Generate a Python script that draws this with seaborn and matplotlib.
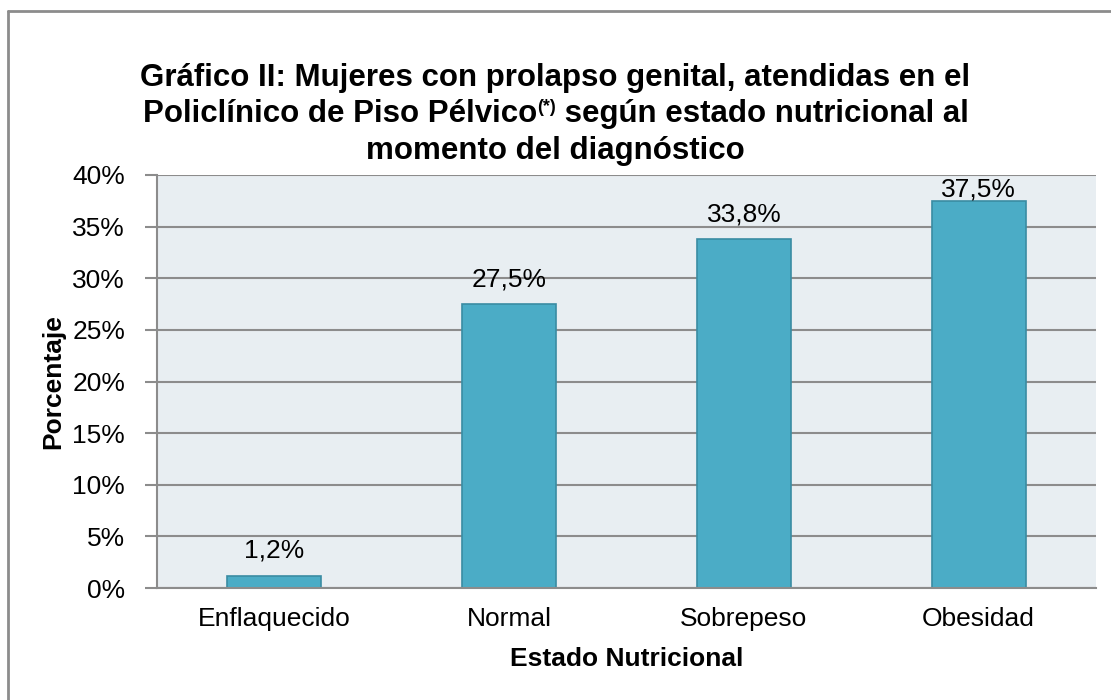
import matplotlib
matplotlib.use("Agg")
import matplotlib.pyplot as plt
import seaborn as sns
import pandas as pd
from matplotlib.lines import Line2D

categories = ["Enflaquecido", "Normal", "Sobrepeso", "Obesidad"]
values = [1.2, 27.5, 33.8, 37.5]
value_labels = ["1,2%", "27,5%", "33,8%", "37,5%"]
yticks = [0, 5, 10, 15, 20, 25, 30, 35, 40]
ytick_labels = ["0%", "5%", "10%", "15%", "20%", "25%", "30%", "35%", "40%"]

sns.set_theme(style="white")
plt.rcParams['font.family'] = ['Liberation Sans', 'DejaVu Sans']
plt.rcParams['text.color'] = 'black'
plt.rcParams['axes.labelcolor'] = 'black'
plt.rcParams['xtick.color'] = 'black'
plt.rcParams['ytick.color'] = 'black'

df = pd.DataFrame({"Estado": categories, "Pct": values})

DPI = 100
fig = plt.figure(figsize=(11.11, 7.0), dpi=DPI)
ax = fig.add_axes([157/1111, 1-588/700, (1096-157)/1111, (588-175)/700])
ax.set_facecolor("#E8EEF2")

sns.barplot(data=df, x="Estado", y="Pct", ax=ax, color="#4BACC6", width=0.4,
            edgecolor="#3A8CA3", linewidth=1.2, saturation=1, zorder=3)

fs = 19
ax.set_ylim(0, 40)
ax.set_xlim(-0.5, 3.5)
ax.set_yticks(yticks)
ax.set_yticklabels(ytick_labels, fontsize=fs, color="black")
ax.tick_params(axis="y", length=9, width=1.5, color="#8C8C8C", pad=14, left=True, labelcolor="black")
ax.tick_params(axis="x", length=0, pad=14, labelsize=fs, labelcolor="black")
ax.yaxis.grid(True, color="#8C8C8C", linewidth=1.5, zorder=0)
ax.set_axisbelow(True)
for s in ["top", "right"]:
    ax.spines[s].set_visible(False)
for s in ["left", "bottom"]:
    ax.spines[s].set_color("#8C8C8C")
    ax.spines[s].set_linewidth(1.5)
    ax.spines[s].set_zorder(4)

# value labels: baseline ~18px above bar, kept inside the plot area
axes_top_px = ax.transAxes.transform((0, 1))[1]
for i, (v, lab) in enumerate(zip(values, value_labels)):
    bar_top_px = ax.transData.transform((i, v))[1]
    off_px = min(18, (axes_top_px - 22) - bar_top_px)
    ax.annotate(lab, (i, v), xytext=(0, off_px * 72 / DPI), textcoords="offset points",
                ha="center", va="baseline", fontsize=fs, color="black")

ax.set_xlabel("Estado Nutricional", fontsize=fs, fontweight="bold", labelpad=11, color="black")
ax.set_ylabel("Porcentaje", fontsize=fs, fontweight="bold", color="black")
ax.yaxis.set_label_coords(-92/939, 0.5)

# Title (three lines, middle one with superscript)
tfs = 22.5
fig.text(0.5, 1-78/700, "Gráfico II: Mujeres con prolapso genital, atendidas en el",
         ha="center", va="center", fontsize=tfs, fontweight="bold", color="black")
fig.text(0.5, 1-151/700, "momento del diagnóstico",
         ha="center", va="center", fontsize=tfs, fontweight="bold", color="black")

fig.canvas.draw()
r = fig.canvas.get_renderer()
y2 = 1-114/700
parts = [("Policlínico de Piso Pélvico", tfs, 0), ("(*)", 13, 7), (" según estado nutricional al", tfs, 0)]
widths = []
for s, f, dy in parts:
    t = fig.text(0, 0, s, fontsize=f, fontweight="bold")
    widths.append(t.get_window_extent(r).width)
    t.remove()
total = sum(widths)
x = (1111 - total) / 2
for (s, f, dy), w in zip(parts, widths):
    fig.text(x/1111, y2 + dy/700, s, ha="left", va="center", fontsize=f, fontweight="bold", color="black")
    x += w

# outer border (top and left edges)
fig.add_artist(Line2D([8/1111, 1], [1-11/700, 1-11/700], color="#8C8C8C", lw=2, transform=fig.transFigure))
fig.add_artist(Line2D([8/1111, 8/1111], [0, 1-11/700], color="#8C8C8C", lw=2, transform=fig.transFigure))

fig.savefig("out.png", dpi=DPI)
